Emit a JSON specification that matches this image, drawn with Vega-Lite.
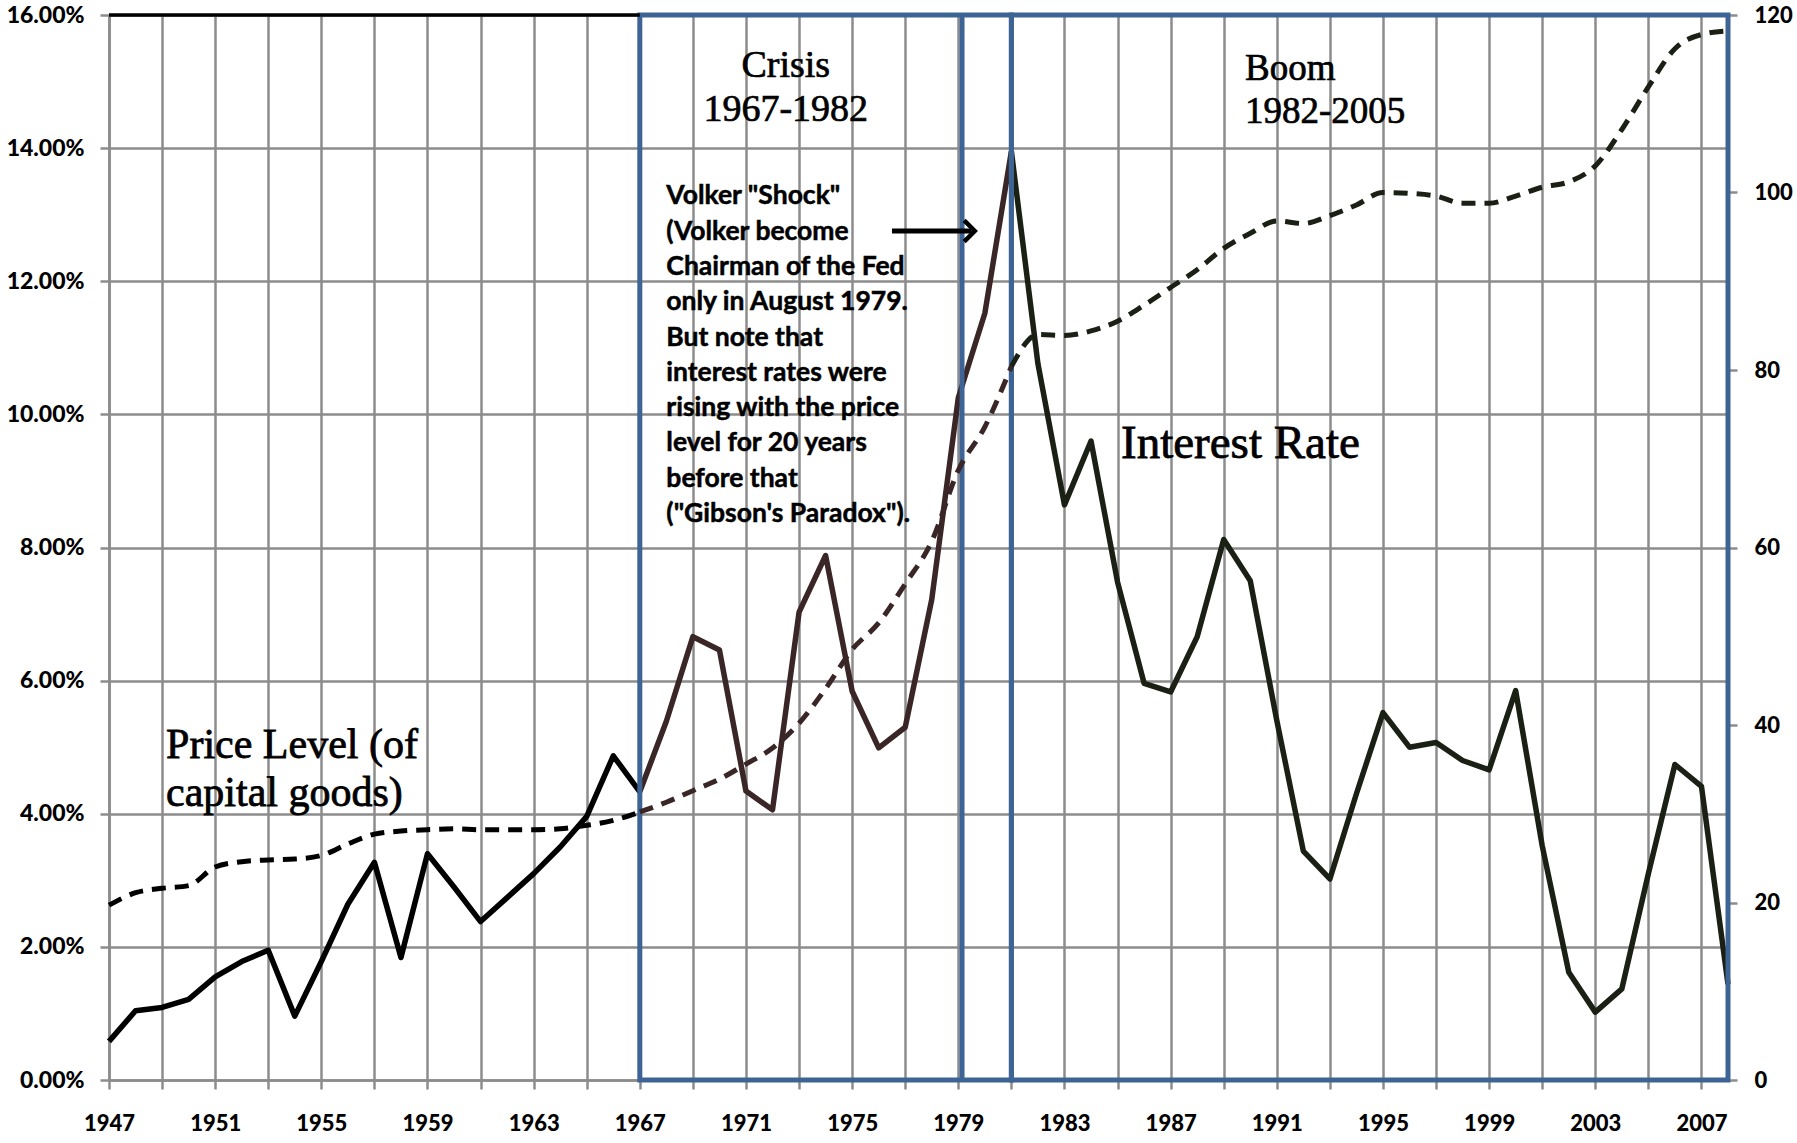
{
  "$schema": "https://vega.github.io/schema/vega-lite/v6.json",
  "width": 1619,
  "height": 1065,
  "autosize": {"type": "none"},
  "padding": {"left": 109, "top": 15, "right": 69, "bottom": 63},
  "background": "white",
  "config": {
    "view": {"stroke": null},
    "axis": {
      "labelFont": "Lato",
      "labelFontWeight": 900,
      "labelColor": "#000000",
      "labelFontSize": 22,
      "labelFlush": false,
      "labelOverlap": false,
      "tickColor": "#8c8c8c",
      "tickWidth": 2.5,
      "tickSize": 9,
      "domainColor": "#8c8c8c",
      "domainWidth": 2.5,
      "gridColor": "#8c8c8c",
      "gridWidth": 2.5,
      "gridOpacity": 1
    }
  },
  "datasets": {
    "series": [
      {"year": 1947, "rate": 0.58, "price": 19.7, "period": "pre"},
      {"year": 1948, "rate": 1.04, "price": 21.1, "period": "pre"},
      {"year": 1949, "rate": 1.09, "price": 21.6, "period": "pre"},
      {"year": 1950, "rate": 1.21, "price": 21.9, "period": "pre"},
      {"year": 1951, "rate": 1.55, "price": 24.0, "period": "pre"},
      {"year": 1952, "rate": 1.78, "price": 24.6, "period": "pre"},
      {"year": 1953, "rate": 1.95, "price": 24.8, "period": "pre"},
      {"year": 1954, "rate": 0.96, "price": 24.9, "period": "pre"},
      {"year": 1955, "rate": 1.78, "price": 25.3, "period": "pre"},
      {"year": 1956, "rate": 2.64, "price": 26.6, "period": "pre"},
      {"year": 1957, "rate": 3.27, "price": 27.7, "period": "pre"},
      {"year": 1958, "rate": 1.84, "price": 28.05, "period": "pre"},
      {"year": 1959, "rate": 3.40, "price": 28.2, "period": "pre"},
      {"year": 1960, "rate": 2.90, "price": 28.3, "period": "pre"},
      {"year": 1961, "rate": 2.38, "price": 28.2, "period": "pre"},
      {"year": 1962, "rate": 2.74, "price": 28.2, "period": "pre"},
      {"year": 1963, "rate": 3.10, "price": 28.2, "period": "pre"},
      {"year": 1964, "rate": 3.50, "price": 28.3, "period": "pre"},
      {"year": 1965, "rate": 3.96, "price": 28.7, "period": "pre"},
      {"year": 1966, "rate": 4.87, "price": 29.25, "period": "pre"},
      {"year": 1967, "rate": 4.33, "price": 30.2, "period": "pre"},
      {"year": 1967, "rate": 4.33, "price": 30.2, "period": "crisis"},
      {"year": 1968, "rate": 5.39, "price": 31.3, "period": "crisis"},
      {"year": 1969, "rate": 6.66, "price": 32.6, "period": "crisis"},
      {"year": 1970, "rate": 6.46, "price": 33.9, "period": "crisis"},
      {"year": 1971, "rate": 4.34, "price": 35.6, "period": "crisis"},
      {"year": 1972, "rate": 4.06, "price": 37.4, "period": "crisis"},
      {"year": 1973, "rate": 7.03, "price": 40.2, "period": "crisis"},
      {"year": 1974, "rate": 7.88, "price": 44.1, "period": "crisis"},
      {"year": 1975, "rate": 5.84, "price": 48.5, "period": "crisis"},
      {"year": 1976, "rate": 4.99, "price": 51.5, "period": "crisis"},
      {"year": 1977, "rate": 5.30, "price": 55.9, "period": "crisis"},
      {"year": 1978, "rate": 7.22, "price": 60.7, "period": "crisis"},
      {"year": 1979, "rate": 10.25, "price": 68.7, "period": "crisis"},
      {"year": 1980, "rate": 11.52, "price": 73.6, "period": "crisis"},
      {"year": 1981, "rate": 13.95, "price": 80.4, "period": "crisis"},
      {"year": 1981, "rate": 13.95, "price": 80.4, "period": "boom"},
      {"year": 1982, "rate": 10.76, "price": 84.0, "period": "boom"},
      {"year": 1983, "rate": 8.64, "price": 83.9, "period": "boom"},
      {"year": 1984, "rate": 9.60, "price": 84.4, "period": "boom"},
      {"year": 1985, "rate": 7.48, "price": 85.5, "period": "boom"},
      {"year": 1986, "rate": 5.96, "price": 87.3, "period": "boom"},
      {"year": 1987, "rate": 5.83, "price": 89.3, "period": "boom"},
      {"year": 1988, "rate": 6.66, "price": 91.3, "period": "boom"},
      {"year": 1989, "rate": 8.12, "price": 93.7, "period": "boom"},
      {"year": 1990, "rate": 7.50, "price": 95.4, "period": "boom"},
      {"year": 1991, "rate": 5.40, "price": 96.8, "period": "boom"},
      {"year": 1992, "rate": 3.44, "price": 96.5, "period": "boom"},
      {"year": 1993, "rate": 3.02, "price": 97.4, "period": "boom"},
      {"year": 1994, "rate": 4.30, "price": 98.6, "period": "boom"},
      {"year": 1995, "rate": 5.52, "price": 100.0, "period": "boom"},
      {"year": 1996, "rate": 5.00, "price": 99.9, "period": "boom"},
      {"year": 1997, "rate": 5.07, "price": 99.6, "period": "boom"},
      {"year": 1998, "rate": 4.80, "price": 98.8, "period": "boom"},
      {"year": 1999, "rate": 4.66, "price": 98.8, "period": "boom"},
      {"year": 2000, "rate": 5.85, "price": 99.6, "period": "boom"},
      {"year": 2001, "rate": 3.52, "price": 100.6, "period": "boom"},
      {"year": 2002, "rate": 1.62, "price": 101.2, "period": "boom"},
      {"year": 2003, "rate": 1.02, "price": 103.0, "period": "boom"},
      {"year": 2004, "rate": 1.37, "price": 107.1, "period": "boom"},
      {"year": 2005, "rate": 3.10, "price": 111.9, "period": "boom"},
      {"year": 2006, "rate": 4.74, "price": 116.2, "period": "boom"},
      {"year": 2007, "rate": 4.41, "price": 117.8, "period": "boom"},
      {"year": 2008, "rate": 1.44, "price": 118.2, "period": "boom"}
    ],
    "periods": [
      {"start": 1967, "end": 1981, "name": "Crisis"},
      {"start": 1981, "end": 2008, "name": "Boom"}
    ],
    "one": [{}]
  },
  "layer": [
    {
      "layer": [
        {
          "data": {"name": "series"},
          "mark": {"type": "line", "strokeWidth": 5.5, "strokeJoin": "round"},
          "encoding": {
            "x": {
              "field": "year", "type": "quantitative", "title": null,
              "scale": {"domain": [1947, 2008], "nice": false, "zero": false},
              "axis": {
                "values": [1947, 1949, 1951, 1953, 1955, 1957, 1959, 1961, 1963, 1965, 1967, 1969, 1971, 1973, 1975, 1977, 1979, 1981, 1983, 1985, 1987, 1989, 1991, 1993, 1995, 1997, 1999, 2001, 2003, 2005, 2007],
                "labelExpr": "(datum.value - 1947) % 4 === 0 ? '' + datum.value : ''",
                "grid": true,
                "labelPadding": 24,
                "labelFontSize": 22
              }
            },
            "y": {
              "field": "rate", "type": "quantitative", "title": null,
              "scale": {"domain": [0, 16], "nice": false, "zero": true},
              "axis": {
                "values": [0, 2, 4, 6, 8, 10, 12, 14, 16],
                "format": ".2f",
                "labelExpr": "datum.label + '%'",
                "grid": true,
                "labelPadding": 16,
                "labelFontSize": 23
              }
            },
            "color": {
              "field": "period", "type": "nominal", "legend": null,
              "scale": {"domain": ["pre", "crisis", "boom"], "range": ["#000000", "#3a2626", "#1b2015"]}
            }
          }
        },
        {
          "data": {"name": "periods"},
          "mark": {"type": "rect", "fill": "transparent", "stroke": "#3d6494", "strokeWidth": 5},
          "encoding": {
            "x": {"field": "start", "type": "quantitative", "title": null},
            "x2": {"field": "end"},
            "y": {"datum": 0},
            "y2": {"datum": 16}
          }
        },
        {
          "data": {"name": "one"},
          "mark": {"type": "rule", "color": "#3d6494", "strokeWidth": 5},
          "encoding": {
            "x": {"datum": 1979.14},
            "y": {"datum": 0},
            "y2": {"datum": 16}
          }
        },
        {
          "data": {"name": "one"},
          "mark": {"type": "rule", "color": "#000000", "strokeWidth": 3.5},
          "encoding": {
            "x": {"datum": 1947},
            "x2": {"datum": 1967},
            "y": {"datum": 16}
          }
        },
        {
          "data": {"name": "one"},
          "mark": {"type": "rule", "color": "#000000", "strokeWidth": 5},
          "encoding": {
            "x": {"datum": 1976.5},
            "x2": {"datum": 1979.5},
            "y": {"datum": 12.755}
          }
        },
        {
          "data": {"name": "one"},
          "mark": {"type": "point", "shape": "M -1 -1 L 0 0 L -1 1", "filled": false, "stroke": "#000000", "strokeWidth": 4.5, "size": 450, "opacity": 1},
          "encoding": {
            "x": {"datum": 1979.62},
            "y": {"datum": 12.755}
          }
        },
        {
          "data": {"name": "one"},
          "mark": {
            "type": "text", "font": "Lato", "fontWeight": "bold", "fontSize": 26.5,
            "align": "left", "baseline": "top", "lineHeight": 35.3, "color": "#000000",
            "stroke": "#000000", "strokeWidth": 0.5,
            "text": ["Volker \"Shock\"", "(Volker become", "Chairman of the Fed", "only in August 1979.", "But note that", "interest rates were", "rising with  the price", "level for 20 years", "before that", "(\"Gibson's Paradox\")."]
          },
          "encoding": {
            "x": {"datum": 1968.0},
            "y": {"datum": 13.47}
          }
        },
        {
          "data": {"name": "one"},
          "mark": {
            "type": "text", "font": "Liberation Serif", "fontSize": 38,
            "align": "center", "baseline": "middle", "lineHeight": 44.6, "color": "#000000",
            "stroke": "#000000", "strokeWidth": 0.7,
            "text": ["Crisis", "1967-1982"]
          },
          "encoding": {
            "x": {"datum": 1972.5},
            "y": {"datum": 15.24}
          }
        },
        {
          "data": {"name": "one"},
          "mark": {
            "type": "text", "font": "Liberation Serif", "fontSize": 37,
            "align": "left", "baseline": "middle", "lineHeight": 43.5, "color": "#000000",
            "stroke": "#000000", "strokeWidth": 0.7,
            "text": [" Boom", "1982-2005"]
          },
          "encoding": {
            "x": {"datum": 1989.8},
            "y": {"datum": 15.19}
          }
        },
        {
          "data": {"name": "one"},
          "mark": {
            "type": "text", "font": "Liberation Serif", "fontSize": 47,
            "align": "left", "baseline": "middle", "color": "#000000",
            "stroke": "#000000", "strokeWidth": 0.8,
            "text": "Interest Rate"
          },
          "encoding": {
            "x": {"datum": 1985.13},
            "y": {"datum": 9.56}
          }
        },
        {
          "data": {"name": "one"},
          "mark": {
            "type": "text", "font": "Liberation Serif", "fontSize": 42,
            "align": "left", "baseline": "middle", "lineHeight": 48, "color": "#000000",
            "stroke": "#000000", "strokeWidth": 0.8,
            "text": ["Price Level (of", "capital goods)"]
          },
          "encoding": {
            "x": {"datum": 1949.15},
            "y": {"datum": 5.03}
          }
        }
      ]
    },
    {
      "data": {"name": "series"},
      "mark": {"type": "line", "strokeWidth": 5, "strokeDash": [14, 9], "interpolate": "monotone"},
      "encoding": {
        "x": {"field": "year", "type": "quantitative", "title": null},
        "y": {
          "field": "price", "type": "quantitative", "title": null,
          "scale": {"domain": [0, 120], "nice": false, "zero": true},
          "axis": {
            "orient": "right",
            "values": [0, 20, 40, 60, 80, 100, 120],
            "grid": false,
            "domain": false,
            "labelAlign": "left",
            "labelPadding": 17,
            "labelFontSize": 22
          }
        },
        "color": {"field": "period", "type": "nominal", "legend": null}
      }
    }
  ],
  "resolve": {"scale": {"y": "independent"}}
}
